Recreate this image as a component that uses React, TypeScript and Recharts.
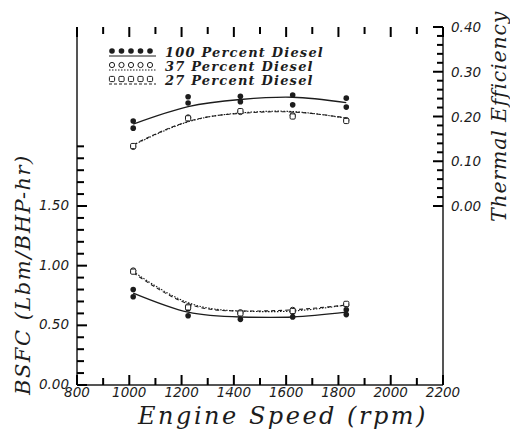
import React from "react";
import { ComposedChart, Line, Scatter, XAxis, YAxis, Legend } from "recharts";

const ink = "#1c1c1c";

// engine speeds where the runs were taken
const rpm = [1015, 1225, 1425, 1625, 1830];

// thermal efficiency (right axis) - two runs at 100 percent diesel
const eff100A = [0.19, 0.244, 0.245, 0.248, 0.241];
const eff100B = [0.174, 0.23, 0.233, 0.226, 0.221];
const eff37 = [0.132, 0.198, 0.21, 0.203, 0.192];
const eff27 = [0.134, 0.196, 0.212, 0.2, 0.19];
const eff100Fit = [0.183, 0.222, 0.238, 0.243, 0.231];
const eff37Fit = [0.136, 0.188, 0.208, 0.211, 0.196];
const eff27Fit = [0.137, 0.189, 0.207, 0.21, 0.197];

// BSFC (left axis)
const bsfc100A = [0.8, 0.64, 0.6, 0.61, 0.63];
const bsfc100B = [0.74, 0.58, 0.55, 0.57, 0.59];
const bsfc37 = [0.96, 0.66, 0.61, 0.63, 0.67];
const bsfc27 = [0.95, 0.65, 0.6, 0.62, 0.68];
const bsfc100Fit = [0.77, 0.61, 0.57, 0.57, 0.61];
const bsfc37Fit = [0.95, 0.69, 0.62, 0.62, 0.67];
const bsfc27Fit = [0.94, 0.68, 0.62, 0.63, 0.67];

// axes
const rpmDomain = [800, 2200];
const bsfcDomain = [0, 3];
const effDomain = [-0.4, 0.4];
const rpmTicks = [800, 900, 1000, 1100, 1200, 1300, 1400, 1500, 1600, 1700, 1800, 1900, 2000, 2100, 2200];
const rpmLabels = [800, 1000, 1200, 1400, 1600, 1800, 2000, 2200];
const bsfcTicks = [0, 0.1, 0.2, 0.3, 0.4, 0.5, 0.6, 0.7, 0.8, 0.9, 1.0, 1.1, 1.2, 1.3, 1.4, 1.5, 1.6, 1.7, 1.8, 1.9, 2.0];
const bsfcLabels = [0, 0.5, 1.0, 1.5];
const effTicks = [0, 0.02, 0.04, 0.06, 0.08, 0.1, 0.12, 0.14, 0.16, 0.18, 0.2, 0.22, 0.24, 0.26, 0.28, 0.3, 0.32, 0.34, 0.36, 0.38, 0.4];
const effLabels = [0, 0.1, 0.2, 0.3, 0.4];

const legendRows = [
  { name: "100 Percent Diesel", kind: "filled", dash: undefined },
  { name: "37 Percent Diesel", kind: "circle", dash: "1.5 1.5" },
  { name: "27 Percent Diesel", kind: "square", dash: "3 2" },
];

const pts = (xs: number[], ys: number[]) => xs.map((x, i) => ({ x, y: ys[i] }));
const near = (list: number[], v: number) => list.some((l) => Math.abs(l - v) < 1e-6);

const tickFont = { fontFamily: "DejaVu Sans", fontStyle: "italic", fontSize: 13.5, fill: ink };
const titleFont = { fontFamily: "DejaVu Serif", fontStyle: "italic", fontSize: 21, fill: ink };

function Marker({ kind, cx, cy }: { kind: string; cx: number; cy: number }) {
  if (kind === "filled") return <circle cx={cx} cy={cy} r={2.8} fill={ink} />;
  if (kind === "circle") return <circle cx={cx} cy={cy} r={2.6} fill="#fff" stroke={ink} strokeWidth={1} />;
  return <rect x={cx - 2.6} y={cy - 2.6} width={5.2} height={5.2} rx={1.2} fill="#fff" stroke={ink} strokeWidth={1} />;
}

const shape = (kind: string) => (p: any) => <Marker kind={kind} cx={p.cx} cy={p.cy} />;

function BottomTick({ x, y, payload }: any) {
  if (!near(rpmLabels, payload.value)) return <g />;
  return (
    <text x={x} y={y + 12} textAnchor="middle" style={tickFont}>
      {payload.value}
    </text>
  );
}

function LeftTick({ x, y, payload }: any) {
  if (!near(bsfcLabels, payload.value)) return <g />;
  return (
    <text x={x - 8} y={y + 4} textAnchor="end" style={tickFont}>
      {payload.value.toFixed(2)}
    </text>
  );
}

function RightTick({ x, y, payload }: any) {
  if (!near(effLabels, payload.value)) return <g />;
  return (
    <text x={x + 8} y={y + 5} textAnchor="start" style={tickFont}>
      {payload.value.toFixed(2)}
    </text>
  );
}

function LegendBox() {
  return (
    <div style={{ fontFamily: "DejaVu Serif", fontStyle: "italic", fontWeight: "bold", fontSize: 13, color: ink }}>
      {legendRows.map((r) => (
        <div key={r.name} style={{ display: "flex", alignItems: "center", height: 14 }}>
          <svg width={50} height={12}>
            {[0, 1, 2, 3, 4].map((i) => (
              <Marker key={i} kind={r.kind} cx={4 + i * 9.5} cy={5} />
            ))}
            <line x1={1} x2={48} y1={10} y2={10} stroke={ink} strokeWidth={1} strokeDasharray={r.dash} />
          </svg>
          <span style={{ marginLeft: 7, letterSpacing: 1.2 }}>{r.name}</span>
        </div>
      ))}
    </div>
  );
}

export default function App() {
  const axisLine = { stroke: ink, strokeWidth: 1.5 };
  // frame tick positions, put on the frame through the chart scales
  const bottomTicks = rpmTicks.map((x) => ({ x, y: bsfcDomain[0], len: near(rpmLabels, x) ? 10 : 7 }));
  const topTicks = rpmTicks.map((x) => ({ x, y: bsfcDomain[1], len: near(rpmLabels, x) ? 10 : 7 }));
  const leftTicks = bsfcTicks.map((y) => ({ x: rpmDomain[0], y, len: near(bsfcLabels, y) ? 10 : 7 }));
  const rightTicks = effTicks.map((y) => ({ x: rpmDomain[1], y, len: near(effLabels, y) ? 10 : 6 }));
  return (
    <div style={{ position: "absolute", left: 0, top: 0, width: 510, height: 435, background: "#fff" }}>
      <ComposedChart width={510} height={435} margin={{ top: 27, right: 0, bottom: 0, left: 0 }}>
        <XAxis
          xAxisId="rpm"
          dataKey="x"
          type="number"
          domain={rpmDomain}
          ticks={rpmTicks}
          interval={0}
          height={50}
          axisLine={axisLine}
          tickLine={false}
          tickSize={0}
          tickMargin={0}
          tick={BottomTick}
          label={() => (
            <text x={283} y={424} textAnchor="middle" style={{ ...titleFont, fontSize: 24, letterSpacing: 2.5 }}>
              Engine Speed (rpm)
            </text>
          )}
        />
        <XAxis
          xAxisId="top"
          orientation="top"
          dataKey="x"
          type="number"
          domain={rpmDomain}
          ticks={rpmTicks}
          interval={0}
          height={0}
          axisLine={axisLine}
          tickLine={false}
          tick={false}
        />
        <YAxis
          yAxisId="bsfc"
          type="number"
          domain={bsfcDomain}
          ticks={bsfcTicks}
          interval={0}
          width={77}
          axisLine={axisLine}
          tickLine={false}
          tickSize={0}
          tickMargin={0}
          tick={LeftTick}
          label={() => (
            <text x={30} y={395} transform="rotate(-90 30 395)" textAnchor="start" style={{ ...titleFont, letterSpacing: 1.5 }}>
              BSFC (Lbm/BHP-hr)
            </text>
          )}
        />
        <YAxis
          yAxisId="eff"
          orientation="right"
          type="number"
          domain={effDomain}
          ticks={effTicks}
          interval={0}
          width={67}
          axisLine={axisLine}
          tickLine={false}
          tickSize={0}
          tickMargin={0}
          tick={RightTick}
          label={() => (
            <text x={506} y={222} transform="rotate(-90 506 222)" textAnchor="start" style={{ ...titleFont, fontSize: 20.5, letterSpacing: 0.8 }}>
              Thermal Efficiency
            </text>
          )}
        />
        <Legend
          layout="vertical"
          align="center"
          verticalAlign="middle"
          wrapperStyle={{ left: 108, top: 45, width: 260 }}
          content={() => <LegendBox />}
        />

        <Scatter xAxisId="rpm" yAxisId="bsfc" data={bottomTicks} dataKey="y" shape={(p: any) => <path d={`M${p.cx},${p.cy}v${-p.payload.len}`} stroke="#000" strokeWidth={2} />} isAnimationActive={false} />
        <Scatter xAxisId="rpm" yAxisId="bsfc" data={topTicks} dataKey="y" shape={(p: any) => <path d={`M${p.cx},${p.cy}v${p.payload.len}`} stroke="#000" strokeWidth={2} />} isAnimationActive={false} />
        <Scatter xAxisId="rpm" yAxisId="bsfc" data={leftTicks} dataKey="y" shape={(p: any) => <path d={`M${p.cx},${p.cy}h${p.payload.len}`} stroke="#000" strokeWidth={2} />} isAnimationActive={false} />
        <Scatter xAxisId="rpm" yAxisId="eff" data={rightTicks} dataKey="y" shape={(p: any) => <path d={`M${p.cx},${p.cy}h${-p.payload.len}`} stroke="#000" strokeWidth={2} />} isAnimationActive={false} />

        <Line xAxisId="rpm" yAxisId="eff" data={pts(rpm, eff100Fit)} dataKey="y" type="natural" stroke={ink} strokeWidth={1.3} dot={false} isAnimationActive={false} />
        <Line xAxisId="rpm" yAxisId="eff" data={pts(rpm, eff37Fit)} dataKey="y" type="natural" stroke={ink} strokeWidth={1.1} strokeDasharray="1.5 1.5" dot={false} isAnimationActive={false} />
        <Line xAxisId="rpm" yAxisId="eff" data={pts(rpm, eff27Fit)} dataKey="y" type="natural" stroke={ink} strokeWidth={1.1} strokeDasharray="4 3" dot={false} isAnimationActive={false} />
        <Line xAxisId="rpm" yAxisId="bsfc" data={pts(rpm, bsfc100Fit)} dataKey="y" type="natural" stroke={ink} strokeWidth={1.3} dot={false} isAnimationActive={false} />
        <Line xAxisId="rpm" yAxisId="bsfc" data={pts(rpm, bsfc37Fit)} dataKey="y" type="natural" stroke={ink} strokeWidth={1.1} strokeDasharray="1.5 1.5" dot={false} isAnimationActive={false} />
        <Line xAxisId="rpm" yAxisId="bsfc" data={pts(rpm, bsfc27Fit)} dataKey="y" type="natural" stroke={ink} strokeWidth={1.1} strokeDasharray="4 3" dot={false} isAnimationActive={false} />

        <Scatter xAxisId="rpm" yAxisId="eff" data={pts(rpm, eff100A)} dataKey="y" shape={shape("filled")} isAnimationActive={false} />
        <Scatter xAxisId="rpm" yAxisId="eff" data={pts(rpm, eff100B)} dataKey="y" shape={shape("filled")} isAnimationActive={false} />
        <Scatter xAxisId="rpm" yAxisId="eff" data={pts(rpm, eff37)} dataKey="y" shape={shape("circle")} isAnimationActive={false} />
        <Scatter xAxisId="rpm" yAxisId="eff" data={pts(rpm, eff27)} dataKey="y" shape={shape("square")} isAnimationActive={false} />
        <Scatter xAxisId="rpm" yAxisId="bsfc" data={pts(rpm, bsfc100A)} dataKey="y" shape={shape("filled")} isAnimationActive={false} />
        <Scatter xAxisId="rpm" yAxisId="bsfc" data={pts(rpm, bsfc100B)} dataKey="y" shape={shape("filled")} isAnimationActive={false} />
        <Scatter xAxisId="rpm" yAxisId="bsfc" data={pts(rpm, bsfc37)} dataKey="y" shape={shape("circle")} isAnimationActive={false} />
        <Scatter xAxisId="rpm" yAxisId="bsfc" data={pts(rpm, bsfc27)} dataKey="y" shape={shape("square")} isAnimationActive={false} />
      </ComposedChart>
    </div>
  );
}
